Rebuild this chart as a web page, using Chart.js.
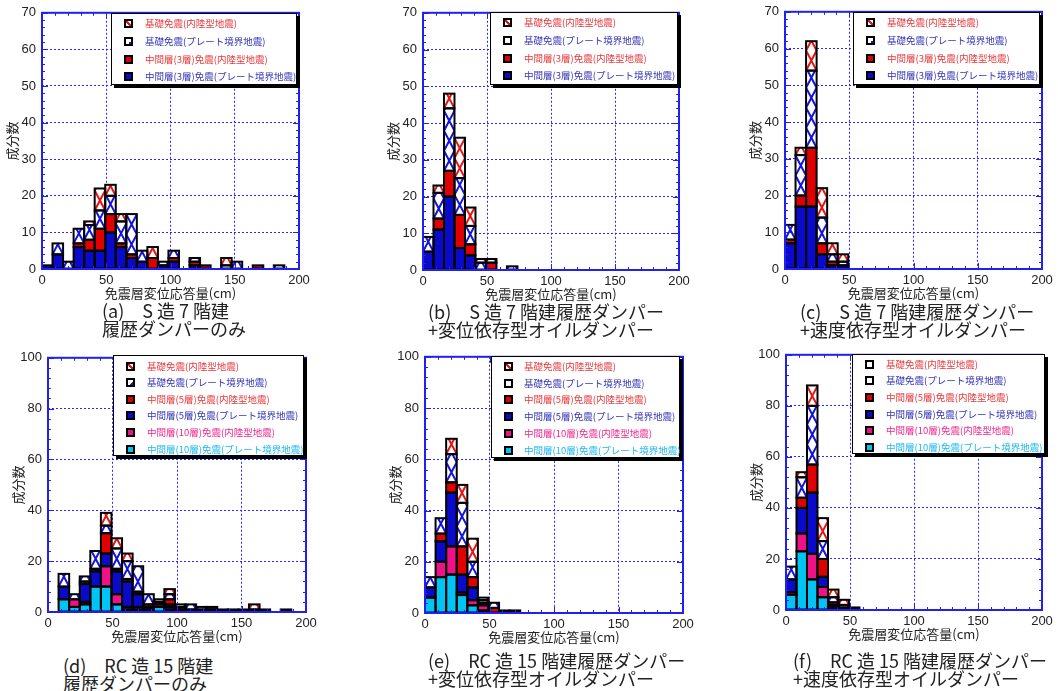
<!DOCTYPE html>
<html>
<head>
<meta charset="utf-8">
<script src="https://cdn.jsdelivr.net/npm/chart.js@4.4.0/dist/chart.umd.min.js"></script>
<style>
  body { margin: 0; width: 1058px; height: 691px; overflow: hidden; position: relative; background: #fff;
         font-family: "Noto Sans CJK JP", sans-serif; }
  canvas { position: absolute; }
  .legend { position: absolute; background: #fff; border: 1.5px solid #000; box-shadow: 3px 3px 0 #000; box-sizing: border-box; }
  .legend .txt { position: absolute; white-space: nowrap; font-size: 9.5px; line-height: 12px; }
  .legend .mk { position: absolute; width: 9px; height: 9px; border: 2px solid #000; box-sizing: border-box; }
  .cap { position: absolute; white-space: nowrap; font-size: 18px; line-height: 20px; color: #222; }
</style>
</head>
<body>
<canvas id="chartA"></canvas>
<canvas id="chartB"></canvas>
<canvas id="chartC"></canvas>
<canvas id="chartD"></canvas>
<canvas id="chartE"></canvas>
<canvas id="chartF"></canvas>
<script>
// bins of the histograms (cm), one bar per bin starting at 0
const binWidth = 8.2;

// (a) S造7階建 履歴ダンパーのみ
const aMidPlate   = [1, 4, 0, 6, 5, 5, 10, 6, 3, 2, 0, 1, 2, 0, 1, 0, 0, 0, 0, 0, 0, 0, 0];
const aMidInland  = [0, 0, 0, 1, 3, 6, 5, 1, 1, 0, 3, 0, 1, 0, 1, 1, 0, 0, 0, 0, 1, 0, 0];
const aBasePlate  = [0, 3, 2, 4, 4, 5, 5, 6, 11, 3, 0, 1, 2, 0, 1, 0, 0, 1, 2, 0, 0, 0, 1];
const aBaseInland = [0, 0, 0, 0, 1, 6, 3, 2, 0, 0, 3, 0, 0, 0, 0, 0, 0, 2, 0, 0, 0, 0, 0];

// (b) S造7階建 履歴ダンパー+変位依存型オイルダンパー
const bMidPlate   = [5, 11, 20, 6, 4, 0, 0, 0, 0];
const bMidInland  = [0, 3, 7, 9, 3, 0, 2, 0, 0];
const bBasePlate  = [4, 7, 17, 10, 5, 2, 1, 0, 1];
const bBaseInland = [0, 2, 4, 11, 5, 1, 0, 0, 0];

// (c) S造7階建 履歴ダンパー+速度依存型オイルダンパー
const cMidPlate   = [7, 17, 17, 4, 1, 1];
const cMidInland  = [1, 3, 16, 3, 1, 0];
const cBasePlate  = [4, 11, 21, 7, 2, 1];
const cBaseInland = [0, 2, 8, 8, 3, 2];

// (d) RC造15階建 履歴ダンパーのみ
const dMid10Plate  = [0, 5, 2, 3, 10, 10, 3, 1, 1, 1, 2, 1, 1, 0, 0, 0, 0, 0, 0, 0, 0, 0, 0];
const dMid10Inland = [0, 0, 3, 1, 0, 8, 4, 1, 1, 0, 1, 1, 0, 0, 0, 0, 0, 0, 0, 0, 0, 0, 0];
const dMid5Plate   = [0, 5, 0, 7, 6, 5, 9, 10, 5, 1, 0, 1, 0, 1, 1, 1, 1, 0, 0, 0, 1, 0, 0];
const dMid5Inland  = [0, 0, 0, 1, 1, 8, 1, 1, 1, 1, 1, 2, 1, 0, 0, 1, 0, 0, 0, 1, 0, 0, 0];
const dBasePlate   = [0, 5, 2, 2, 7, 3, 8, 7, 10, 4, 1, 2, 1, 2, 1, 0, 0, 1, 1, 0, 0, 0, 1];
const dBaseInland  = [0, 0, 0, 0, 0, 5, 4, 3, 0, 0, 0, 2, 0, 0, 0, 0, 0, 0, 0, 2, 0, 0, 0];

// (e) RC造15階建 履歴ダンパー+変位依存型オイルダンパー
const eMid10Plate  = [6, 14, 15, 7, 3, 1, 0, 0, 0];
const eMid10Inland = [0, 6, 11, 1, 2, 2, 0, 1, 1];
const eMid5Plate   = [4, 8, 21, 7, 5, 0, 0, 0, 0];
const eMid5Inland  = [0, 3, 4, 11, 4, 1, 2, 0, 0];
const eBasePlate   = [4, 6, 11, 17, 6, 1, 2, 0, 0];
const eBaseInland  = [0, 0, 6, 7, 9, 1, 0, 0, 0];

// (f) RC造15階建 履歴ダンパー+速度依存型オイルダンパー
const fMid10Plate  = [6, 23, 12, 5, 1, 0, 0];
const fMid10Inland = [1, 7, 10, 4, 0, 1, 1];
const fMid5Plate   = [5, 10, 24, 4, 1, 0, 0];
const fMid5Inland  = [0, 4, 11, 7, 1, 0, 0];
const fBasePlate   = [5, 8, 23, 7, 2, 1, 0];
const fBaseInland  = [0, 2, 8, 9, 3, 2, 0];

const legendTop = ['基礎免震(内陸型地震)', '基礎免震(プレート境界地震)', '中間層(3層)免震(内陸型地震)', '中間層(3層)免震(プレート境界地震)'];
const legendBottom = ['基礎免震(内陸型地震)', '基礎免震(プレート境界地震)', '中間層(5層)免震(内陸型地震)', '中間層(5層)免震(プレート境界地震)',
                      '中間層(10層)免震(内陸型地震)', '中間層(10層)免震(プレート境界地震)'];

const BLUE = '#0a0acb', RED = '#e00000', PINK = '#ee1188', CYAN = '#00c4f4';
const HATCH_BLUE = '#1414e0', HATCH_RED = '#e81414';
const FRAME = '#2020f0', GRID = '#2a2aff';
const TXT_RED = '#e8383c', TXT_BLUE = '#3434b8', TXT_PINK = '#f0288c', TXT_CYAN = '#20b8ee';

// draws hatching, black outlines of each segment, blue frame and minor ticks
const histDecor = {
    id: 'histDecor',
    afterDatasetsDraw(chart) {
        const ctx = chart.ctx;
        const area = chart.chartArea;
        const rects = [];
        chart.data.datasets.forEach(function (ds, i) {
            chart.getDatasetMeta(i).data.forEach(function (bar, k) {
                if (!ds.data[k].y) return;
                const p = bar.getProps(['x', 'y', 'base', 'width'], true);
                rects.push({
                    l: p.x - p.width / 2, r: p.x + p.width / 2,
                    t: Math.min(p.y, p.base), b: Math.max(p.y, p.base), hatch: ds.hatch
                });
            });
        });
        ctx.save();
        ctx.beginPath();
        ctx.rect(area.left, area.top, area.right - area.left, area.bottom - area.top);
        ctx.clip();
        const cell = 20;
        rects.forEach(function (q) {
            if (!q.hatch) return;
            ctx.save();
            ctx.beginPath();
            ctx.rect(q.l, q.t, q.r - q.l, q.b - q.t);
            ctx.clip();
            ctx.strokeStyle = q.hatch;
            ctx.lineWidth = 2;
            ctx.beginPath();
            for (let yy = q.b; yy > q.t - cell; yy -= cell) {
                ctx.moveTo(q.l, yy); ctx.lineTo(q.r, yy - cell);
                ctx.moveTo(q.r, yy); ctx.lineTo(q.l, yy - cell);
            }
            ctx.stroke();
            ctx.restore();
        });
        ctx.strokeStyle = '#000';
        ctx.lineWidth = 2;
        rects.forEach(function (q) {
            ctx.strokeRect(q.l, q.t, q.r - q.l, q.b - q.t);
        });
        ctx.restore();

        // frame
        ctx.save();
        ctx.strokeStyle = FRAME;
        ctx.lineWidth = 2;
        ctx.strokeRect(area.left, area.top, area.right - area.left, area.bottom - area.top);
        ctx.lineWidth = 1;
        ctx.beginPath();
        const xs = chart.scales.x, ys = chart.scales.y;
        for (let v = 0; v <= 200; v += 10) {
            const px = Math.round(xs.getPixelForValue(v)) + 0.5;
            const len = v % 50 === 0 ? 6 : 3;
            ctx.moveTo(px, area.bottom); ctx.lineTo(px, area.bottom - len);
            ctx.moveTo(px, area.top); ctx.lineTo(px, area.top + len);
        }
        const minor = chart.options.minorStep;
        for (let v = 0; v <= ys.max; v += minor) {
            const py = Math.round(ys.getPixelForValue(v)) + 0.5;
            const len = v % chart.options.majorStep === 0 ? 6 : 3;
            ctx.moveTo(area.left, py); ctx.lineTo(area.left + len, py);
            ctx.moveTo(area.right, py); ctx.lineTo(area.right - len, py);
        }
        ctx.stroke();
        ctx.restore();
    }
};

function toPoints(values) {
    return values.map(function (v, k) {
        return { x: (k + 0.5) * binWidth, y: v };
    });
}

function buildPanel(canvasId, box, yMax, yStep, minorStep, layers) {
    const x0 = box.L - 42, y0 = box.T - 12;
    const w = box.R - x0 + 20, h = box.B - y0 + 36;
    const canvas = document.getElementById(canvasId);
    canvas.width = w;
    canvas.height = h;
    canvas.style.left = x0 + 'px';
    canvas.style.top = y0 + 'px';
    const tickFont = { family: 'Liberation Sans', size: 13 };
    const titleFont = { family: 'Noto Sans CJK JP', size: 13 };
    return new Chart(canvas, {
        type: 'bar',
        data: {
            datasets: layers.map(function (layer) {
                return {
                    data: toPoints(layer.data),
                    backgroundColor: layer.fill,
                    hatch: layer.hatch,
                    borderWidth: 0,
                    barPercentage: 1,
                    categoryPercentage: 1,
                };
            })
        },
        options: {
            responsive: false,
            animation: false,
            minorStep: minorStep,
            majorStep: yStep,
            layout: { padding: { top: 12, right: 20, left: 0, bottom: 0 } },
            plugins: {
                legend: { display: false },
                tooltip: { enabled: false }
            },
            scales: {
                x: {
                    type: 'linear', min: 0, max: 200, offset: false, stacked: true,
                    grid: { offset: false, color: GRID, lineWidth: 1, drawTicks: false },
                    border: { display: false, dash: [2, 2] },
                    ticks: { stepSize: 50, padding: 4, font: tickFont, color: '#222', maxRotation: 0 },
                    title: { display: true, text: '免震層変位応答量(cm)', font: titleFont, color: '#222', padding: { top: 0, bottom: 4 } },
                    afterFit: function (s) { s.height = 36; }
                },
                y: {
                    type: 'linear', min: 0, max: yMax, stacked: true,
                    grid: { color: GRID, lineWidth: 1, drawTicks: false },
                    border: { display: false, dash: [2, 2] },
                    ticks: { stepSize: yStep, padding: 6, font: tickFont, color: '#222' },
                    title: { display: true, text: '成分数', font: titleFont, color: '#222', padding: { top: 4, bottom: 0 } },
                    afterFit: function (s) { s.width = 42; }
                }
            }
        },
        plugins: [histDecor]
    });
}

buildPanel('chartA', { L: 42, T: 11, R: 299, B: 269 }, 70, 10, 2, [
    { data: aMidPlate, fill: BLUE }, { data: aMidInland, fill: RED },
    { data: aBasePlate, fill: '#fff', hatch: HATCH_BLUE }, { data: aBaseInland, fill: '#fff', hatch: HATCH_RED }]);
buildPanel('chartB', { L: 423, T: 11, R: 679, B: 270 }, 70, 10, 2, [
    { data: bMidPlate, fill: BLUE }, { data: bMidInland, fill: RED },
    { data: bBasePlate, fill: '#fff', hatch: HATCH_BLUE }, { data: bBaseInland, fill: '#fff', hatch: HATCH_RED }]);
buildPanel('chartC', { L: 785, T: 10, R: 1042, B: 269 }, 70, 10, 2, [
    { data: cMidPlate, fill: BLUE }, { data: cMidInland, fill: RED },
    { data: cBasePlate, fill: '#fff', hatch: HATCH_BLUE }, { data: cBaseInland, fill: '#fff', hatch: HATCH_RED }]);
buildPanel('chartD', { L: 48, T: 356, R: 306, B: 612 }, 100, 20, 4, [
    { data: dMid10Plate, fill: CYAN }, { data: dMid10Inland, fill: PINK },
    { data: dMid5Plate, fill: BLUE }, { data: dMid5Inland, fill: RED },
    { data: dBasePlate, fill: '#fff', hatch: HATCH_BLUE }, { data: dBaseInland, fill: '#fff', hatch: HATCH_RED }]);
buildPanel('chartE', { L: 425, T: 355, R: 683, B: 613 }, 100, 20, 4, [
    { data: eMid10Plate, fill: CYAN }, { data: eMid10Inland, fill: PINK },
    { data: eMid5Plate, fill: BLUE }, { data: eMid5Inland, fill: RED },
    { data: eBasePlate, fill: '#fff', hatch: HATCH_BLUE }, { data: eBaseInland, fill: '#fff', hatch: HATCH_RED }]);
buildPanel('chartF', { L: 786, T: 353, R: 1042, B: 610 }, 100, 20, 4, [
    { data: fMid10Plate, fill: CYAN }, { data: fMid10Inland, fill: PINK },
    { data: fMid5Plate, fill: BLUE }, { data: fMid5Inland, fill: RED },
    { data: fBasePlate, fill: '#fff', hatch: HATCH_BLUE }, { data: fBaseInland, fill: '#fff', hatch: HATCH_RED }]);

// legend markers
const MARKS = {
    rx: 'linear-gradient(to top right, #fff 38%, ' + HATCH_RED + ' 38%, ' + HATCH_RED + ' 62%, #fff 62%)',
    bx: 'linear-gradient(to top left, ' + HATCH_BLUE + ' 30%, #fff 30%)',
    white: '#fff', red: RED, blue: BLUE, pink: PINK, cyan: CYAN
};

function buildLegend(box, labels, colors, marks, rowStart, rowStep) {
    const div = document.createElement('div');
    div.className = 'legend';
    div.style.left = box.x + 'px';
    div.style.top = box.y + 'px';
    div.style.width = box.w + 'px';
    div.style.height = box.h + 'px';
    labels.forEach(function (label, i) {
        const cy = rowStart + i * rowStep;
        const mk = document.createElement('div');
        mk.className = 'mk';
        mk.style.left = box.mx + 'px';
        mk.style.top = (cy - 4.5) + 'px';
        mk.style.background = MARKS[marks[i]];
        div.appendChild(mk);
        const t = document.createElement('div');
        t.className = 'txt';
        t.style.left = box.tx + 'px';
        t.style.top = (cy - 6.5) + 'px';
        t.style.color = colors[i];
        t.textContent = label;
        div.appendChild(t);
    });
    document.body.appendChild(div);
}

const topColors = [TXT_RED, TXT_BLUE, TXT_RED, TXT_BLUE];
const bottomColors = [TXT_RED, TXT_BLUE, TXT_RED, TXT_BLUE, TXT_PINK, TXT_CYAN];
buildLegend({ x: 111, y: 13, w: 186, h: 72, mx: 12, tx: 33 }, legendTop, topColors, ['rx', 'bx', 'red', 'blue'], 9.5, 17.8);
buildLegend({ x: 490, y: 12, w: 188, h: 73, mx: 12, tx: 33 }, legendTop, topColors, ['rx', 'white', 'red', 'blue'], 9.5, 17.8);
buildLegend({ x: 853, y: 12, w: 187, h: 73, mx: 12, tx: 33 }, legendTop, topColors, ['rx', 'bx', 'red', 'blue'], 9.5, 17.8);
buildLegend({ x: 113, y: 355, w: 191, h: 101, mx: 12, tx: 33 }, legendBottom, bottomColors, ['rx', 'bx', 'red', 'blue', 'pink', 'cyan'], 10, 16.6);
buildLegend({ x: 491, y: 356, w: 189, h: 102, mx: 12, tx: 32 }, legendBottom, bottomColors, ['rx', 'white', 'red', 'blue', 'pink', 'cyan'], 9.5, 16.7);
buildLegend({ x: 852, y: 354, w: 193, h: 100, mx: 12, tx: 33 }, legendBottom, bottomColors, ['white', 'white', 'red', 'blue', 'pink', 'cyan'], 9, 16.7);

// captions under each panel
const captions = [
    { x: 102, y: 300, lines: ['(a)　S 造 7 階建', '履歴ダンパーのみ'] },
    { x: 428, y: 301, lines: ['(b)　S 造 7 階建履歴ダンパー', '+変位依存型オイルダンパー'] },
    { x: 800, y: 301, lines: ['(c)　S 造 7 階建履歴ダンパー', '+速度依存型オイルダンパー'] },
    { x: 63, y: 655, lines: ['(d)　RC 造 15 階建', '履歴ダンパーのみ'] },
    { x: 428, y: 650, lines: ['(e)　RC 造 15 階建履歴ダンパー', '+変位依存型オイルダンパー'] },
    { x: 793, y: 650, lines: ['(f)　RC 造 15 階建履歴ダンパー', '+速度依存型オイルダンパー'] }
];
captions.forEach(function (c) {
    c.lines.forEach(function (line, i) {
        const d = document.createElement('div');
        d.className = 'cap';
        d.style.left = c.x + 'px';
        d.style.top = (c.y + i * 18) + 'px';
        d.textContent = line;
        document.body.appendChild(d);
    });
});
</script>
</body>
</html>
